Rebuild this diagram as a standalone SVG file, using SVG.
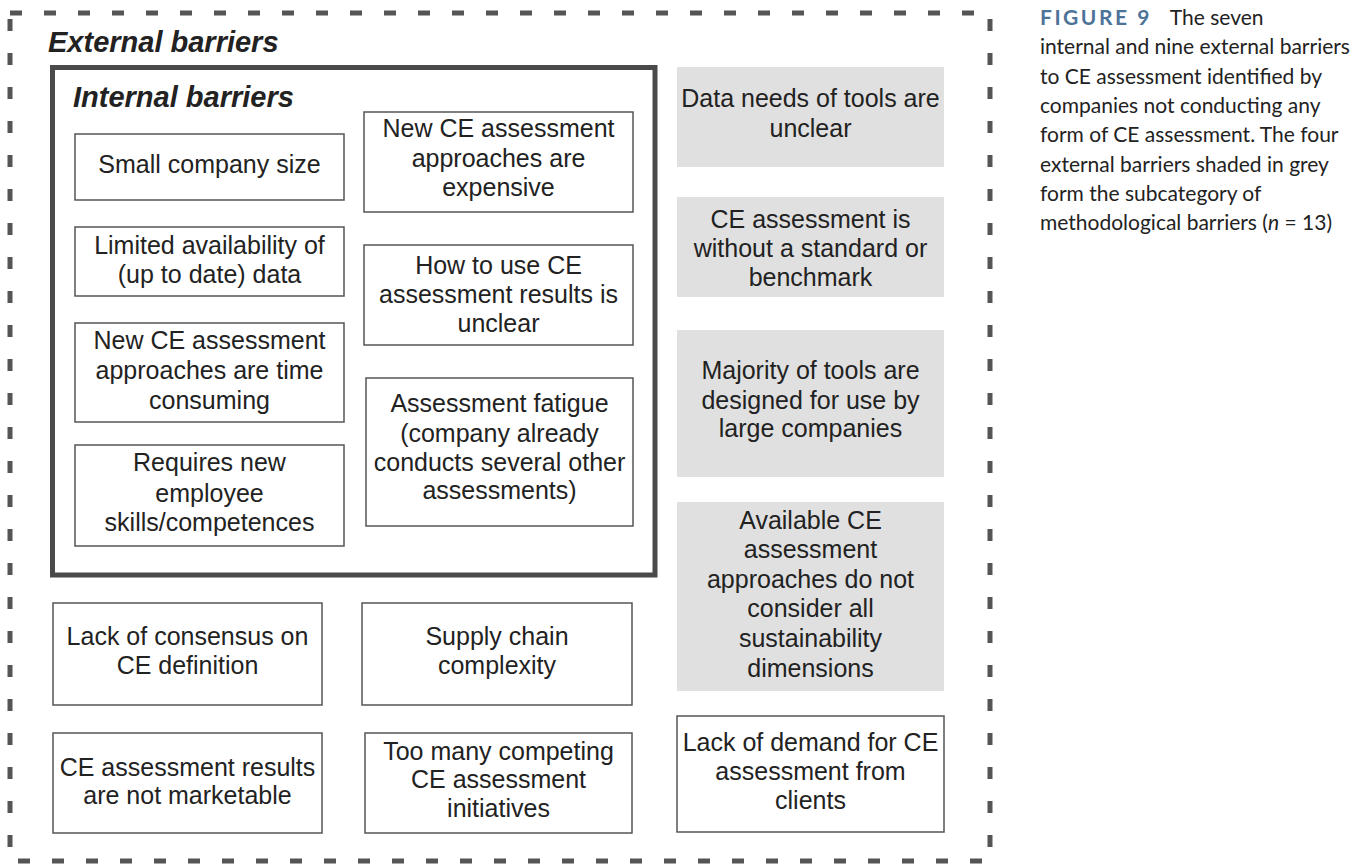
<svg xmlns="http://www.w3.org/2000/svg" width="1365" height="868" viewBox="0 0 1365 868">
<style>
.lbl{font-family:"Liberation Sans",Arial,sans-serif;font-size:25px;fill:#222;text-anchor:middle}
.ttl{font-family:"Liberation Sans",Arial,sans-serif;font-size:29px;font-weight:bold;font-style:italic;fill:#222}
.box{fill:#fff;stroke:#555;stroke-width:1.5}
.grey{fill:#e0e0e0;stroke:none}
.cap{font-family:Lato,"Noto Sans",sans-serif;font-size:21px;fill:#222}
</style>
<rect width="1365" height="868" fill="#fff"/>
<g id="external-barriers">
<rect x="10" y="13" width="980" height="848" fill="none" stroke="#555" stroke-width="5" stroke-dasharray="12 22"/>
<text class="ttl" x="48" y="52">External barriers</text>
</g>
<g id="internal-barriers">
<rect x="52.5" y="67.5" width="602.5" height="507.5" fill="none" stroke="#4a4a4a" stroke-width="5"/>
<text class="ttl" x="73" y="107">Internal barriers</text>
</g>
<g id="n-small-company">
<rect class="box" x="75" y="134" width="269" height="66"/>
<text class="lbl" x="209.5" y="173">Small company size</text>
</g>
<g id="n-expensive">
<rect class="box" x="364" y="112" width="269" height="100"/>
<text class="lbl" x="498.5" y="137">New CE assessment</text>
<text class="lbl" x="498.5" y="167">approaches are</text>
<text class="lbl" x="498.5" y="196">expensive</text>
</g>
<g id="n-limited-data">
<rect class="box" x="75" y="227" width="269" height="69"/>
<text class="lbl" x="209.5" y="254">Limited availability of</text>
<text class="lbl" x="209.5" y="283">(up to date) data</text>
</g>
<g id="n-how-to-use">
<rect class="box" x="364" y="245" width="269" height="100"/>
<text class="lbl" x="498.5" y="274">How to use CE</text>
<text class="lbl" x="498.5" y="303">assessment results is</text>
<text class="lbl" x="498.5" y="332">unclear</text>
</g>
<g id="n-time-consuming">
<rect class="box" x="75" y="323" width="269" height="99"/>
<text class="lbl" x="209.5" y="349">New CE assessment</text>
<text class="lbl" x="209.5" y="379">approaches are time</text>
<text class="lbl" x="209.5" y="409">consuming</text>
</g>
<g id="n-fatigue">
<rect class="box" x="366" y="378" width="267" height="148"/>
<text class="lbl" x="499.5" y="412">Assessment fatigue</text>
<text class="lbl" x="499.5" y="442">(company already</text>
<text class="lbl" x="499.5" y="471">conducts several other</text>
<text class="lbl" x="499.5" y="499">assessments)</text>
</g>
<g id="n-skills">
<rect class="box" x="75" y="445" width="269" height="101"/>
<text class="lbl" x="209.5" y="471">Requires new</text>
<text class="lbl" x="209.5" y="502">employee</text>
<text class="lbl" x="209.5" y="531">skills/competences</text>
</g>
<g id="n-data-needs">
<rect class="grey" x="677" y="67" width="267" height="100"/>
<text class="lbl" x="810.5" y="107">Data needs of tools are</text>
<text class="lbl" x="810.5" y="137">unclear</text>
</g>
<g id="n-no-standard">
<rect class="grey" x="677" y="197" width="267" height="100"/>
<text class="lbl" x="810.5" y="228">CE assessment is</text>
<text class="lbl" x="810.5" y="257">without a standard or</text>
<text class="lbl" x="810.5" y="286">benchmark</text>
</g>
<g id="n-large-companies">
<rect class="grey" x="677" y="330" width="267" height="147"/>
<text class="lbl" x="810.5" y="379" fill="#111">Majority of tools are</text>
<text class="lbl" x="810.5" y="409" fill="#111">designed for use by</text>
<text class="lbl" x="810.5" y="437" fill="#111">large companies</text>
</g>
<g id="n-sustainability">
<rect class="grey" x="677" y="502" width="267" height="189"/>
<text class="lbl" x="810.5" y="529">Available CE</text>
<text class="lbl" x="810.5" y="558">assessment</text>
<text class="lbl" x="810.5" y="588">approaches do not</text>
<text class="lbl" x="810.5" y="617">consider all</text>
<text class="lbl" x="810.5" y="647">sustainability</text>
<text class="lbl" x="810.5" y="677">dimensions</text>
</g>
<g id="n-consensus">
<rect class="box" x="53" y="603" width="269" height="102"/>
<text class="lbl" x="187.5" y="645">Lack of consensus on</text>
<text class="lbl" x="187.5" y="674">CE definition</text>
</g>
<g id="n-supply-chain">
<rect class="box" x="362" y="603" width="270" height="102"/>
<text class="lbl" x="497" y="645">Supply chain</text>
<text class="lbl" x="497" y="674">complexity</text>
</g>
<g id="n-demand">
<rect class="box" x="677" y="716" width="267" height="116"/>
<text class="lbl" x="810.5" y="751">Lack of demand for CE</text>
<text class="lbl" x="810.5" y="780">assessment from</text>
<text class="lbl" x="810.5" y="809">clients</text>
</g>
<g id="n-marketable">
<rect class="box" x="53" y="733" width="269" height="100"/>
<text class="lbl" x="187.5" y="776">CE assessment results</text>
<text class="lbl" x="187.5" y="804">are not marketable</text>
</g>
<g id="n-initiatives">
<rect class="box" x="365" y="733" width="267" height="100"/>
<text class="lbl" x="498.5" y="760">Too many competing</text>
<text class="lbl" x="498.5" y="788">CE assessment</text>
<text class="lbl" x="498.5" y="817">initiatives</text>
</g>
<g id="connectors"></g>
<g id="caption">
<text class="cap" x="1040" y="25"><tspan font-weight="bold" fill="#4d7399" letter-spacing="2.5">FIGURE 9</tspan><tspan dx="18">The seven</tspan></text>
<text class="cap" x="1040" y="54">internal and nine external barriers</text>
<text class="cap" x="1040" y="83.5">to CE assessment identified by</text>
<text class="cap" x="1040" y="113">companies not conducting any</text>
<text class="cap" x="1040" y="142">form of CE assessment. The four</text>
<text class="cap" x="1040" y="171.5">external barriers shaded in grey</text>
<text class="cap" x="1040" y="201">form the subcategory of</text>
<text class="cap" x="1040" y="230">methodological barriers (<tspan font-style="italic">n</tspan> = 13)</text>
</g>
</svg>
